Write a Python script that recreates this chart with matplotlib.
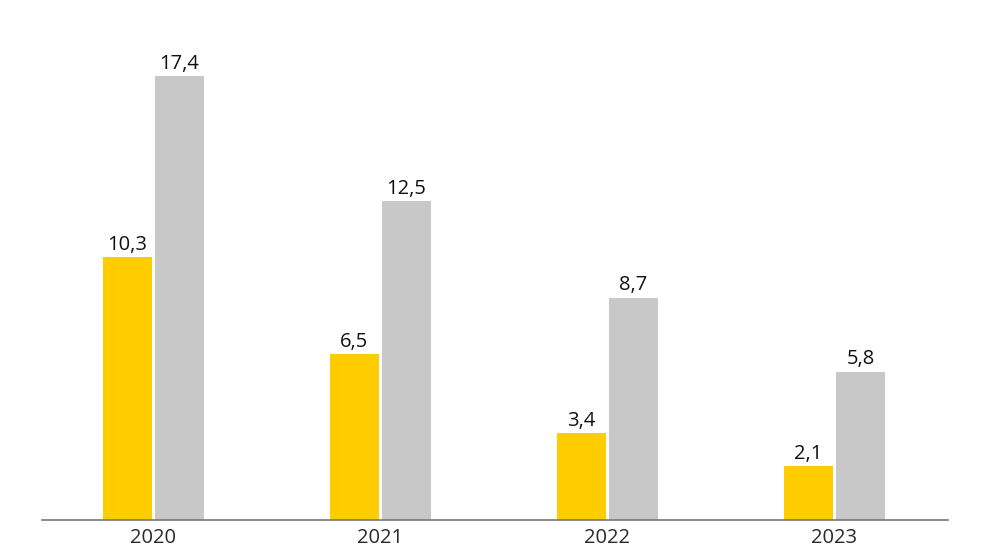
import matplotlib
matplotlib.use("Agg")
import matplotlib.pyplot as plt
import numpy as np

years = ["2020", "2021", "2022", "2023"]
yellow_vals = [10.3, 6.5, 3.4, 2.1]
gray_vals = [17.4, 12.5, 8.7, 5.8]

plt.rcParams['font.family'] = ['Open Sans', 'DejaVu Sans']

fig = plt.figure(figsize=(9.92, 5.58), dpi=100)
ax = fig.add_axes([42 / 992, 38 / 558, 906 / 992, 520 / 558])

x = np.arange(len(years))
w = 0.216
off = 0.1145
b1 = ax.bar(x - off, yellow_vals, width=w, color="#FFCC00")
b2 = ax.bar(x + off, gray_vals, width=w, color="#C9C8C9")

for bars, vals in ((b1, yellow_vals), (b2, gray_vals)):
    for b, v in zip(bars, vals):
        ax.annotate(f"{v:.1f}".replace(".", ","),
                    (b.get_x() + b.get_width() / 2, v),
                    xytext=(0, 2), textcoords="offset points",
                    ha="center", va="bottom", fontsize=14.5, color="#111111")

ax.set_xlim(-0.491, 3.5)
ax.set_ylim(0, 20.4)
ax.set_xticks(x)
ax.set_xticklabels(years, fontsize=14.5, color="#2a2a2a")
ax.tick_params(axis="x", length=0, pad=6)
ax.set_yticks([])
for s in ["top", "right", "left"]:
    ax.spines[s].set_visible(False)
ax.spines["bottom"].set_color("#777777")
ax.spines["bottom"].set_linewidth(1.2)

fig.savefig("out.png", dpi=100)
